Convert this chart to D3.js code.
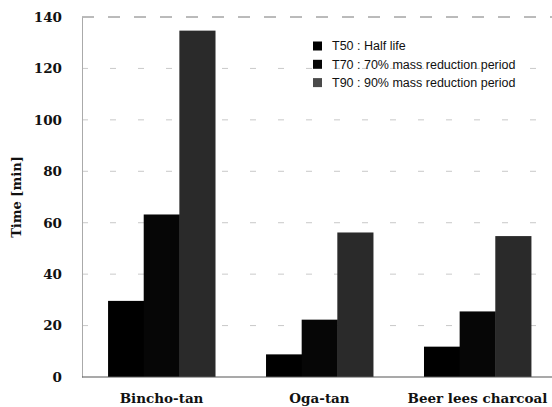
<!DOCTYPE html>
<html>
<head>
<meta charset="utf-8">
<script src="https://cdn.jsdelivr.net/npm/d3@7"></script>
<style>
  body { margin: 0; background: #fff; }
  svg { display: block; }
  .tick text { font-family: "DejaVu Serif", "Liberation Serif", serif; font-weight: bold; }
</style>
</head>
<body>
<div id="chart"></div>
<script>
// Chart data
var categories = ["Bincho-tan", "Oga-tan", "Beer lees charcoal"];
var seriesKeys = ["T50", "T70", "T90"];
var seriesLabels = ["T50 : Half life", "T70 : 70% mass reduction period", "T90 : 90% mass reduction period"];
var t50 = [29.6, 8.8, 11.8];
var t70 = [63.2, 22.3, 25.5];
var t90 = [134.7, 56.2, 54.8];
var yTicks = [0, 20, 40, 60, 80, 100, 120, 140];

var seriesValues = { T50: t50, T70: t70, T90: t90 };
var colors = { T50: "#000", T70: "#060606", T90: "#2a2a2a" };
var legendColors = { T50: "#000", T70: "#060606", T90: "#4a4a4a" };

var W = 552, H = 407;

var svg = d3.select("#chart").append("svg")
  .attr("width", W).attr("height", H);

var yScale = d3.scaleLinear().domain([0, 140]).range([377, 17]);
var x0 = d3.scaleBand().domain(categories)
  .range([82, 557]).paddingInner(0.323).paddingOuter(0.165);
var x1 = d3.scaleBand().domain(seriesKeys).range([0, x0.bandwidth()]);

// Gridlines (faint dashed)
svg.append("g").attr("class", "grid")
  .selectAll("line").data(yTicks.filter(function(d) { return d > 0; }))
  .enter().append("line")
    .attr("x1", 82).attr("x2", W)
    .attr("y1", function(d) { return yScale(d); })
    .attr("y2", function(d) { return yScale(d); })
    .style("stroke", function(d) { return d === 140 ? "#777" : "#bbb"; })
    .style("stroke-width", function(d) { return d === 140 ? 1 : 0.8; })
    .style("stroke-dasharray", function(d) { return d === 140 ? "12,14" : "6,22"; });

// Bars
var group = svg.selectAll(".cat")
  .data(categories).enter().append("g")
    .attr("class", "cat")
    .attr("transform", function(d) { return "translate(" + x0(d) + ",0)"; });
group.selectAll("rect")
  .data(function(d, i) { return seriesKeys.map(function(k) { return { key: k, value: seriesValues[k][i] }; }); })
  .enter().append("rect")
    .attr("x", function(d) { return x1(d.key); })
    .attr("width", x1.bandwidth() + 0.5)
    .attr("y", function(d) { return yScale(d.value); })
    .attr("height", function(d) { return yScale(0) - yScale(d.value); })
    .style("fill", function(d) { return colors[d.key]; });

// Y axis
var yAxis = d3.axisLeft(yScale).tickValues(yTicks).tickSize(0).tickPadding(20);
var yG = svg.append("g").attr("transform", "translate(82,0)").call(yAxis);
yG.select(".domain").style("stroke", "#aaa").style("stroke-width", 1);
yG.selectAll(".tick text").style("font-size", "13.5px").style("fill", "#111");

// Bottom axis line
svg.append("line")
  .attr("x1", 82).attr("x2", W)
  .attr("y1", yScale(0)).attr("y2", yScale(0))
  .style("stroke", "#555").style("stroke-width", 1.2);

// Category labels
var xAxis = d3.axisBottom(x0).tickSize(0).tickPadding(16);
var xG = svg.append("g").attr("transform", "translate(0," + yScale(0) + ")").call(xAxis);
xG.select(".domain").remove();
xG.selectAll(".tick text").style("font-size", "13.5px").style("fill", "#111");

// Y axis title
svg.append("text")
  .attr("transform", "translate(21,197) rotate(-90)")
  .attr("text-anchor", "middle")
  .style("font-family", "\"DejaVu Serif\", \"Liberation Serif\", serif")
  .style("font-weight", "bold")
  .style("font-size", "13px")
  .style("fill", "#111")
  .text("Time [min]");

// Legend
var legend = svg.append("g").attr("class", "legend");
var row = legend.selectAll("g").data(seriesKeys).enter().append("g")
  .attr("transform", function(d, i) { return "translate(313," + (46 + i * 18.3) + ")"; });
row.append("rect")
  .attr("x", 0).attr("y", -4.5).attr("width", 9).attr("height", 9)
  .style("fill", function(d) { return legendColors[d]; });
row.append("text")
  .attr("x", 19).attr("dy", "0.35em")
  .style("font-family", "\"Liberation Sans\", Arial, sans-serif")
  .style("font-size", "12.5px")
  .style("fill", "#111")
  .text(function(d, i) { return seriesLabels[i]; });
</script>
</body>
</html>
